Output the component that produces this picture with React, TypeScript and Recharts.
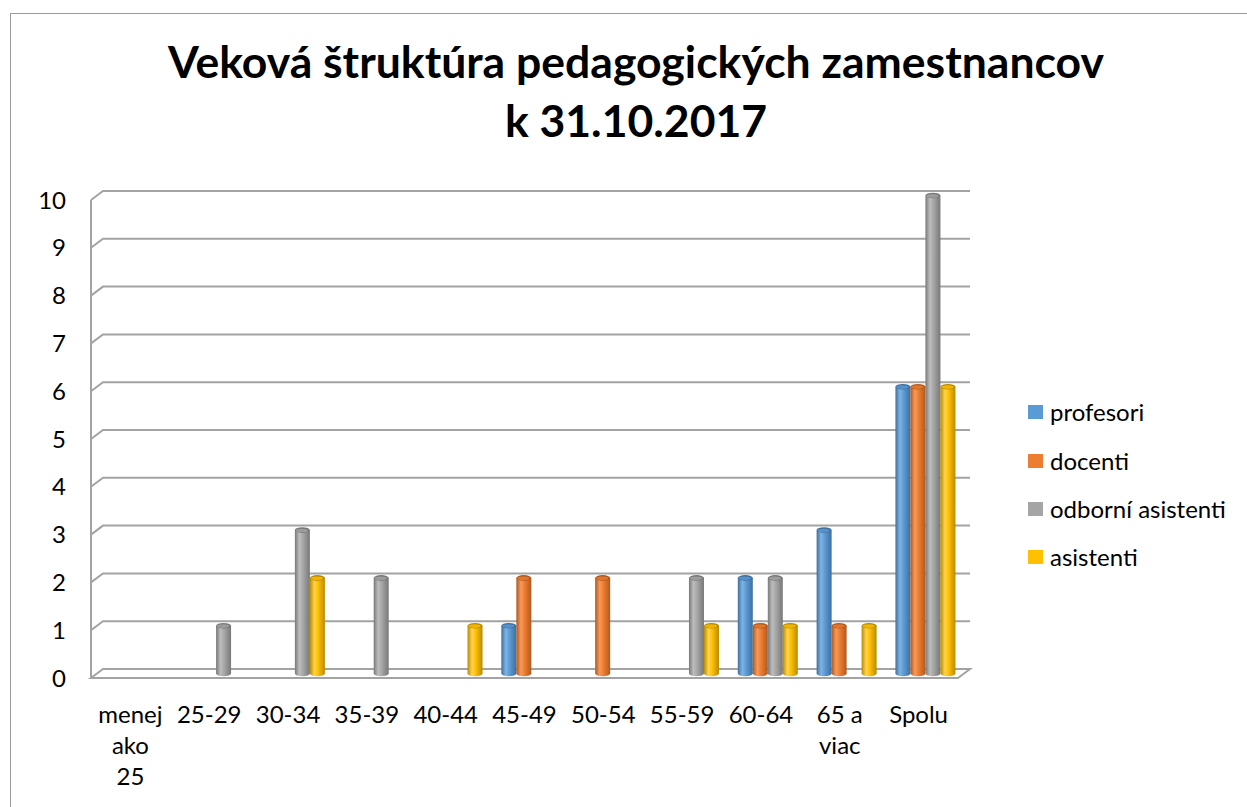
import React from 'react';
import { BarChart, Bar, XAxis, YAxis, CartesianGrid, Legend } from 'recharts';

const categories = ['menej ako 25', '25-29', '30-34', '35-39', '40-44', '45-49', '50-54', '55-59', '60-64', '65 a viac', 'Spolu'];
const tickLabels = ['menej\nako\n25', '25-29', '30-34', '35-39', '40-44', '45-49', '50-54', '55-59', '60-64', '65 a\nviac', 'Spolu'];
const profesori = [0, 0, 0, 0, 0, 1, 0, 0, 2, 3, 6];
const docenti = [0, 0, 0, 0, 0, 2, 2, 0, 1, 1, 6];
const odborniAsistenti = [0, 1, 3, 2, 0, 0, 0, 2, 2, 0, 10];
const asistenti = [0, 0, 2, 0, 1, 0, 0, 1, 1, 1, 6];
const yTicks = [0, 1, 2, 3, 4, 5, 6, 7, 8, 9, 10];

const seriesNames = ['profesori', 'docenti', 'odborní asistenti', 'asistenti'];
const seriesKeys = ['profesori', 'docenti', 'odborni', 'asistenti'];
const seriesColors = ['#5B9BD5', '#ED7D31', '#A5A5A5', '#FFC000'];
const seriesDark = ['#3E6F9E', '#B0591F', '#787878', '#B88A00'];
const seriesLight = ['#7FB3E3', '#F7995A', '#BDBDBD', '#FFD34D'];

const data = categories.map((c, i) => ({
  name: c,
  profesori: profesori[i],
  docenti: docenti[i],
  odborni: odborniAsistenti[i],
  asistenti: asistenti[i],
}));

const W = 1247;
const H = 807;
const MARGIN = { top: 200, right: 289, bottom: 29, left: 31 };
const X_AXIS_H = 100;
const Y_AXIS_W = 60;
const PLOT_BOTTOM = H - MARGIN.bottom - X_AXIS_H;
const DEPTH_X = 12;
const DEPTH_Y = 9;
const FONT = 'Lato, "Open Sans", sans-serif';
const GRID = '#A3A3A3';

const makeShape = (idx: number) => (props: any) => {
  const { x, y, width, height } = props;
  if (!height || height <= 0) return <g />;
  const bx = x + DEPTH_X / 2;
  const by = y - DEPTH_Y / 2;
  const rx = width / 2;
  const ry = 2.8;
  return (
    <g>
      <rect x={bx} y={by} width={width} height={height} fill={`url(#cyl${idx})`} />
      <ellipse cx={bx + rx} cy={by + height} rx={rx} ry={ry} fill={`url(#cyl${idx})`} />
      <ellipse cx={bx + rx} cy={by} rx={rx} ry={ry} fill={seriesDark[idx]} />
      <ellipse cx={bx + rx - 0.5} cy={by + 0.4} rx={rx - 1.3} ry={ry - 1} fill={seriesColors[idx]} opacity={0.8} />
    </g>
  );
};

const gridLine = (props: any) => {
  const { x1, y1, x2 } = props;
  const isFloor = Math.abs(y1 - PLOT_BOTTOM) < 1;
  if (isFloor) {
    return (
      <path
        key={props.key}
        d={`M${x1},${y1} L${x1 + DEPTH_X},${y1 - DEPTH_Y} L${x2 + DEPTH_X},${y1 - DEPTH_Y} L${x2},${y1} Z`}
        fill="#fff"
        stroke={GRID}
        strokeWidth={2}
      />
    );
  }
  return (
    <path
      key={props.key}
      d={`M${x1},${y1} L${x1 + DEPTH_X},${y1 - DEPTH_Y} L${x2 + DEPTH_X},${y1 - DEPTH_Y}`}
      fill="none"
      stroke={GRID}
      strokeWidth={2}
    />
  );
};

const XTick = (props: any) => {
  const { x, y, payload } = props;
  const idx = categories.indexOf(payload.value);
  const label = idx >= 0 ? tickLabels[idx] : String(payload.value);
  const lines = label.split('\n');
  return (
    <text x={x} y={y} textAnchor="middle" style={{ fontFamily: FONT, fontSize: 24, fill: '#000' }}>
      {lines.map((l, i) => (
        <tspan key={i} x={x} dy={i === 0 ? '0.71em' : 31}>
          {l}
        </tspan>
      ))}
    </text>
  );
};

const LegendContent = (props: any) => {
  const payload = [...(props.payload || [])].sort(
    (a: any, b: any) => seriesNames.indexOf(a.value) - seriesNames.indexOf(b.value)
  );
  return (
    <div style={{ fontFamily: FONT, fontSize: 24, color: '#000' }}>
      {payload.map((p: any, i: number) => (
        <div key={i} style={{ height: 48.4, display: 'flex', alignItems: 'center' }}>
          <span style={{ display: 'inline-block', width: 15, height: 14, background: p.color, marginRight: 7 }} />
          <span style={{ lineHeight: '24px', whiteSpace: 'nowrap' }}>{p.value}</span>
        </div>
      ))}
    </div>
  );
};

export default function App() {
  return (
    <div style={{ position: 'absolute', left: 0, top: 0, width: W, height: H, overflow: 'hidden', background: '#fff' }}>
      <div
        style={{
          position: 'absolute',
          left: 10,
          top: 13,
          width: W + 20,
          height: H + 20,
          border: '1.5px solid #9A9A9A',
          boxSizing: 'border-box',
        }}
      />
      <div
        style={{
          position: 'absolute',
          left: 136,
          top: 31,
          width: 1000,
          textAlign: 'center',
          fontFamily: FONT,
          fontWeight: 700,
          fontSize: 44.5,
          lineHeight: '59px',
          color: '#000',
        }}
      >
        <div style={{ whiteSpace: 'nowrap' }}>Veková štruktúra pedagogických zamestnancov</div>
        <div>k 31.10.2017</div>
      </div>
      <div style={{ position: 'absolute', left: 0, top: 0 }}>
        <BarChart width={W} height={H} data={data} margin={MARGIN} barGap={0} barCategoryGap="13%">
          <defs>
            {seriesColors.map((c, i) => (
              <linearGradient key={i} id={`cyl${i}`} x1="0" y1="0" x2="1" y2="0">
                <stop offset="0%" stopColor={seriesDark[i]} />
                <stop offset="30%" stopColor={seriesLight[i]} />
                <stop offset="55%" stopColor={c} />
                <stop offset="100%" stopColor={seriesDark[i]} />
              </linearGradient>
            ))}
          </defs>
          <CartesianGrid vertical={false} horizontal={gridLine} />
          <XAxis
            dataKey="name"
            height={X_AXIS_H}
            axisLine={false}
            tickLine={false}
            tickSize={0}
            tickMargin={28}
            interval={0}
            tick={<XTick />}
          />
          <YAxis
            width={Y_AXIS_W}
            domain={[0, 10]}
            ticks={yTicks}
            interval={0}
            axisLine={{ stroke: GRID, strokeWidth: 2 }}
            tickLine={false}
            tickSize={0}
            tickMargin={25}
            tick={{ fontFamily: FONT, fontSize: 24, fill: '#000' }}
          />
          <Legend
            layout="vertical"
            align="center"
            verticalAlign="middle"
            itemSorter={null as any}
            content={<LegendContent />}
            wrapperStyle={{ left: 1028, top: 388, width: 215, height: 200 }}
          />
          {seriesKeys.map((k, i) => (
            <Bar
              key={k}
              dataKey={k}
              name={seriesNames[i]}
              fill={seriesColors[i]}
              isAnimationActive={false}
              shape={makeShape(i)}
            />
          ))}
        </BarChart>
      </div>
    </div>
  );
}
